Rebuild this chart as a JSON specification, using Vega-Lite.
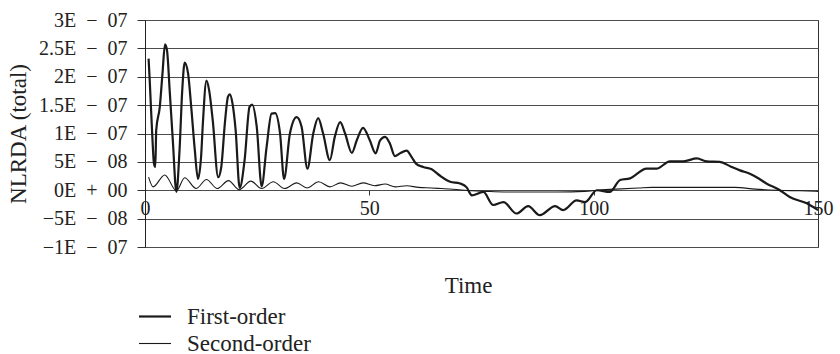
{
  "$schema": "https://vega.github.io/schema/vega-lite/v6.json",
  "width": 673,
  "height": 227,
  "autosize": {"type": "none"},
  "padding": {"left": 145, "top": 20, "right": 22, "bottom": 107},
  "background": "white",
  "config": {
    "view": {"stroke": "#333", "strokeWidth": 1},
    "font": "Liberation Serif",
    "axis": {"labelFont": "Liberation Serif", "titleFont": "Liberation Serif"},
    "legend": {"labelFont": "Liberation Serif", "titleFont": "Liberation Serif"}
  },
  "data": {"values": [
    {"t":0.8,"v":2.32e-7,"series":"First-order"},{"t":1.05,"v":1.94e-7,"series":"First-order"},{"t":1.6,"v":1.0e-7,"series":"First-order"},{"t":2.0,"v":0.47e-7,"series":"First-order"},{"t":2.3,"v":0.41e-7,"series":"First-order"},{"t":2.5,"v":1.06e-7,"series":"First-order"},{"t":3.3,"v":1.47e-7,"series":"First-order"},{"t":3.9,"v":2.06e-7,"series":"First-order"},{"t":4.46,"v":2.57e-7,"series":"First-order"},{"t":4.9,"v":2.47e-7,"series":"First-order"},{"t":5.5,"v":1.76e-7,"series":"First-order"},{"t":6.2,"v":0.88e-7,"series":"First-order"},{"t":7.0,"v":-0.03e-7,"series":"First-order"},{"t":7.7,"v":0.71e-7,"series":"First-order"},{"t":8.3,"v":1.76e-7,"series":"First-order"},{"t":8.85,"v":2.25e-7,"series":"First-order"},{"t":9.6,"v":2.06e-7,"series":"First-order"},{"t":10.3,"v":1.47e-7,"series":"First-order"},{"t":11.1,"v":0.71e-7,"series":"First-order"},{"t":11.8,"v":0.2e-7,"series":"First-order"},{"t":12.5,"v":0.59e-7,"series":"First-order"},{"t":12.9,"v":1.18e-7,"series":"First-order"},{"t":13.7,"v":1.93e-7,"series":"First-order"},{"t":14.3,"v":1.76e-7,"series":"First-order"},{"t":15.1,"v":1.23e-7,"series":"First-order"},{"t":16.3,"v":0.23e-7,"series":"First-order"},{"t":17.0,"v":0.41e-7,"series":"First-order"},{"t":17.8,"v":1.18e-7,"series":"First-order"},{"t":18.5,"v":1.65e-7,"series":"First-order"},{"t":18.9,"v":1.69e-7,"series":"First-order"},{"t":19.5,"v":1.53e-7,"series":"First-order"},{"t":20.2,"v":1.06e-7,"series":"First-order"},{"t":21.1,"v":0.04e-7,"series":"First-order"},{"t":22.2,"v":0.53e-7,"series":"First-order"},{"t":23.3,"v":1.47e-7,"series":"First-order"},{"t":23.9,"v":1.51e-7,"series":"First-order"},{"t":24.9,"v":1.12e-7,"series":"First-order"},{"t":26.0,"v":0.07e-7,"series":"First-order"},{"t":27.1,"v":0.76e-7,"series":"First-order"},{"t":28.2,"v":1.35e-7,"series":"First-order"},{"t":29.0,"v":1.36e-7,"series":"First-order"},{"t":30.1,"v":1.0e-7,"series":"First-order"},{"t":31.0,"v":0.2e-7,"series":"First-order"},{"t":32.3,"v":1.0e-7,"series":"First-order"},{"t":33.8,"v":1.29e-7,"series":"First-order"},{"t":34.9,"v":1.12e-7,"series":"First-order"},{"t":36.2,"v":0.38e-7,"series":"First-order"},{"t":37.5,"v":1.0e-7,"series":"First-order"},{"t":38.6,"v":1.27e-7,"series":"First-order"},{"t":39.7,"v":1.0e-7,"series":"First-order"},{"t":41.2,"v":0.53e-7,"series":"First-order"},{"t":42.3,"v":0.94e-7,"series":"First-order"},{"t":43.5,"v":1.2e-7,"series":"First-order"},{"t":44.6,"v":1.0e-7,"series":"First-order"},{"t":46.1,"v":0.66e-7,"series":"First-order"},{"t":47.2,"v":0.88e-7,"series":"First-order"},{"t":48.6,"v":1.1e-7,"series":"First-order"},{"t":50.1,"v":0.88e-7,"series":"First-order"},{"t":51.4,"v":0.65e-7,"series":"First-order"},{"t":52.4,"v":0.88e-7,"series":"First-order"},{"t":53.5,"v":0.94e-7,"series":"First-order"},{"t":54.6,"v":0.82e-7,"series":"First-order"},{"t":55.7,"v":0.6e-7,"series":"First-order"},{"t":56.8,"v":0.65e-7,"series":"First-order"},{"t":58.3,"v":0.7e-7,"series":"First-order"},{"t":59.4,"v":0.59e-7,"series":"First-order"},{"t":60.4,"v":0.47e-7,"series":"First-order"},{"t":62.0,"v":0.41e-7,"series":"First-order"},{"t":63.9,"v":0.37e-7,"series":"First-order"},{"t":65.7,"v":0.26e-7,"series":"First-order"},{"t":68.0,"v":0.15e-7,"series":"First-order"},{"t":70.2,"v":0.12e-7,"series":"First-order"},{"t":71.7,"v":0.05e-7,"series":"First-order"},{"t":72.4,"v":-0.05e-7,"series":"First-order"},{"t":72.8,"v":-0.09e-7,"series":"First-order"},{"t":75.4,"v":-0.03e-7,"series":"First-order"},{"t":77.6,"v":-0.26e-7,"series":"First-order"},{"t":79.9,"v":-0.21e-7,"series":"First-order"},{"t":82.8,"v":-0.41e-7,"series":"First-order"},{"t":85.4,"v":-0.28e-7,"series":"First-order"},{"t":88.0,"v":-0.44e-7,"series":"First-order"},{"t":91.4,"v":-0.28e-7,"series":"First-order"},{"t":93.2,"v":-0.35e-7,"series":"First-order"},{"t":96.2,"v":-0.18e-7,"series":"First-order"},{"t":98.1,"v":-0.21e-7,"series":"First-order"},{"t":100.7,"v":0.0,"series":"First-order"},{"t":103.6,"v":-0.03e-7,"series":"First-order"},{"t":105.9,"v":0.18e-7,"series":"First-order"},{"t":108.1,"v":0.21e-7,"series":"First-order"},{"t":111.8,"v":0.38e-7,"series":"First-order"},{"t":114.0,"v":0.38e-7,"series":"First-order"},{"t":117.0,"v":0.51e-7,"series":"First-order"},{"t":120.0,"v":0.51e-7,"series":"First-order"},{"t":123.0,"v":0.56e-7,"series":"First-order"},{"t":125.2,"v":0.51e-7,"series":"First-order"},{"t":128.1,"v":0.5e-7,"series":"First-order"},{"t":130.5,"v":0.42e-7,"series":"First-order"},{"t":132.6,"v":0.35e-7,"series":"First-order"},{"t":134.8,"v":0.29e-7,"series":"First-order"},{"t":136.3,"v":0.23e-7,"series":"First-order"},{"t":138.5,"v":0.12e-7,"series":"First-order"},{"t":141.5,"v":0.0,"series":"First-order"},{"t":143.7,"v":-0.12e-7,"series":"First-order"},{"t":147.5,"v":-0.23e-7,"series":"First-order"},{"t":150,"v":-0.35e-7,"series":"First-order"},
    {"t":0.8,"v":0.23e-7,"series":"Second-order"},{"t":1.8,"v":0.06e-7,"series":"Second-order"},{"t":4.4,"v":0.27e-7,"series":"Second-order"},{"t":7.0,"v":-0.01e-7,"series":"Second-order"},{"t":8.85,"v":0.22e-7,"series":"Second-order"},{"t":11.4,"v":0.03e-7,"series":"Second-order"},{"t":13.7,"v":0.19e-7,"series":"Second-order"},{"t":16.1,"v":0.03e-7,"series":"Second-order"},{"t":18.6,"v":0.17e-7,"series":"Second-order"},{"t":21.0,"v":0.01e-7,"series":"Second-order"},{"t":23.6,"v":0.16e-7,"series":"Second-order"},{"t":26.0,"v":0.03e-7,"series":"Second-order"},{"t":28.6,"v":0.15e-7,"series":"Second-order"},{"t":31.1,"v":0.03e-7,"series":"Second-order"},{"t":33.8,"v":0.13e-7,"series":"Second-order"},{"t":36.1,"v":0.04e-7,"series":"Second-order"},{"t":38.7,"v":0.15e-7,"series":"Second-order"},{"t":41.2,"v":0.06e-7,"series":"Second-order"},{"t":43.6,"v":0.13e-7,"series":"Second-order"},{"t":46.1,"v":0.07e-7,"series":"Second-order"},{"t":48.6,"v":0.13e-7,"series":"Second-order"},{"t":51.2,"v":0.08e-7,"series":"Second-order"},{"t":53.5,"v":0.11e-7,"series":"Second-order"},{"t":55.8,"v":0.06e-7,"series":"Second-order"},{"t":58.3,"v":0.08e-7,"series":"Second-order"},{"t":61.0,"v":0.05e-7,"series":"Second-order"},{"t":63.8,"v":0.04e-7,"series":"Second-order"},{"t":66.0,"v":0.03e-7,"series":"Second-order"},{"t":70.0,"v":0.01e-7,"series":"Second-order"},{"t":73.0,"v":-0.01e-7,"series":"Second-order"},{"t":76.0,"v":-0.02e-7,"series":"Second-order"},{"t":80.0,"v":-0.03e-7,"series":"Second-order"},{"t":86.0,"v":-0.03e-7,"series":"Second-order"},{"t":92.0,"v":-0.03e-7,"series":"Second-order"},{"t":98.0,"v":-0.02e-7,"series":"Second-order"},{"t":101.0,"v":0.0,"series":"Second-order"},{"t":105.0,"v":0.02e-7,"series":"Second-order"},{"t":110.0,"v":0.04e-7,"series":"Second-order"},{"t":113.0,"v":0.05e-7,"series":"Second-order"},{"t":120.0,"v":0.05e-7,"series":"Second-order"},{"t":126.0,"v":0.05e-7,"series":"Second-order"},{"t":131.5,"v":0.05e-7,"series":"Second-order"},{"t":136.0,"v":0.02e-7,"series":"Second-order"},{"t":141.0,"v":0.0,"series":"Second-order"},{"t":146.0,"v":-0.01e-7,"series":"Second-order"},{"t":150.0,"v":-0.02e-7,"series":"Second-order"}
  ]},
  "mark": {"type": "line", "color": "#1a1a1a", "interpolate": "monotone", "strokeJoin": "round"},
  "encoding": {
    "x": {
      "field": "t", "type": "quantitative",
      "scale": {"domain": [0, 150], "nice": false, "zero": false},
      "axis": {
        "values": [0, 50, 100, 150], "offset": -57, "domain": false, "grid": false,
        "tickSize": 5, "tickColor": "#333", "labelFontSize": 20, "labelColor": "#222",
        "labelFont": "Liberation Serif",
        "labelPadding": 3, "labelFlush": false, "labelBound": false, "labelOverlap": false,
        "title": "Time", "titleFontSize": 23, "titleFontWeight": "normal", "titleColor": "#222",
        "titleFont": "Liberation Serif",
        "titleX": 323, "titleY": 102, "titleBaseline": "alphabetic", "titleAlign": "center"
      }
    },
    "y": {
      "field": "v", "type": "quantitative",
      "scale": {"domain": [-1e-7, 3e-7], "nice": false, "zero": false},
      "axis": {
        "values": [-1e-7, -5e-8, 0, 5e-8, 1e-7, 1.5e-7, 2e-7, 2.5e-7, 3e-7],
        "grid": true, "gridColor": "#4d4d4d", "gridOpacity": 1, "gridWidth": 1,
        "domain": true, "domainColor": "#222", "tickSize": 8, "tickColor": "#333",
        "labelPadding": 10, "labelFontSize": 20, "labelColor": "#222",
        "labelFont": "Liberation Serif",
        "labelExpr": "datum.value > 2.7e-7 ? '3E\u2002\u2212\u200207' : datum.value > 2.2e-7 ? '2.5E\u2002\u2212\u200207' : datum.value > 1.7e-7 ? '2E\u2002\u2212\u200207' : datum.value > 1.2e-7 ? '1.5E\u2002\u2212\u200207' : datum.value > 7e-8 ? '1E\u2002\u2212\u200207' : datum.value > 2e-8 ? '5E\u2002\u2212\u200208' : datum.value > -2e-8 ? '0E\u2002+\u200200' : datum.value > -7e-8 ? '\u22125E\u2002\u2212\u200208' : '\u22121E\u2002\u2212\u200207'",
        "title": "NLRDA (total)", "titleFontSize": 23, "titleFontWeight": "normal", "titleColor": "#222",
        "titleFont": "Liberation Serif",
        "titleX": -127, "titleY": 113.5, "titleAngle": -90, "titleAlign": "center", "titleBaseline": "middle"
      }
    },
    "strokeWidth": {
      "field": "series", "type": "ordinal",
      "scale": {"domain": ["First-order", "Second-order"], "range": [2.2, 1.1]},
      "legend": {
        "orient": "none", "legendX": -1.5, "legendY": 285, "title": null,
        "symbolType": "M-2.133,0H2.133", "symbolSize": 225, "symbolStrokeColor": "#1a1a1a",
        "symbolFillColor": "transparent", "labelFontSize": 23, "labelColor": "#222",
        "labelFont": "Liberation Serif",
        "labelOffset": 20.5, "rowPadding": 3, "padding": 0
      }
    }
  }
}
